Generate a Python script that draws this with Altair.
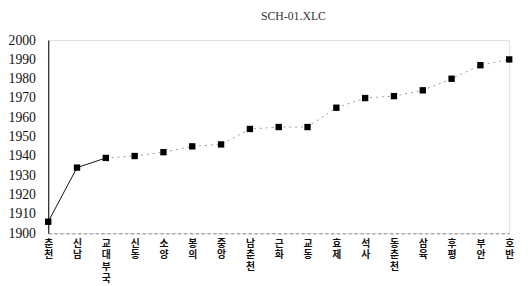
import altair as alt
import pandas as pd

schools = ["춘천", "신남", "교대부국", "신동", "소양", "봉의", "중앙", "남춘천", "근화",
           "교동", "효제", "석사", "동춘천", "삼육", "후평", "부안", "호반"]
years = [1906, 1934, 1939, 1940, 1942, 1945, 1946, 1954, 1955,
         1955, 1965, 1970, 1971, 1974, 1980, 1987, 1990]
y_ticks = [1900, 1910, 1920, 1930, 1940, 1950, 1960, 1970, 1980, 1990, 2000]
title_text = "SCH-01.XLC"

df = pd.DataFrame({"school": schools, "year": years, "idx": list(range(len(schools)))})

x = alt.X("school:N", sort=schools, scale=alt.Scale(type="point", padding=0),
          axis=alt.Axis(title=None, labelAngle=0, labelExpr="split(datum.label, '')",
                        labelFont="Noto Sans CJK KR", labelFontSize=10, labelFontWeight="bold",
                        labelLineHeight=12, labelBaseline="top", labelPadding=5,
                        labelColor="#111", ticks=False, domainColor="#888",
                        domainDash=[3, 3], domainWidth=1, grid=False, labelOverlap=False))
y = alt.Y("year:Q", scale=alt.Scale(domain=[1900, 2000], nice=False, zero=False),
          axis=alt.Axis(title=None, values=y_ticks, format="d", labelFont="Liberation Serif",
                        labelFontSize=14, labelColor="#111", labelPadding=13, ticks=False,
                        domainColor="#222", domainWidth=1.2, grid=False))

base = alt.Chart(df)
solid = base.transform_filter("datum.idx <= 2").mark_line(color="#111", strokeWidth=1).encode(x=x, y=y)
dotted = base.transform_filter("datum.idx >= 2").mark_line(
    color="#999", strokeWidth=1, strokeDash=[2, 4]).encode(x=x, y=y)
pts = base.mark_point(shape="square", filled=True, color="#000", size=42, opacity=1).encode(x=x, y=y)

chart = (solid + dotted + pts).properties(
    width=470, height=197, padding={"left": 0, "top": 0, "right": 6, "bottom": 0},
    title=alt.TitleParams(title_text, font="Liberation Serif", fontSize=12, fontWeight="normal",
                          color="#333", anchor="middle", dx=15, offset=10),
).configure_view(stroke=None).configure(background="white")

chart.save("out.html", embed_options={"renderer": "svg", "actions": False})
